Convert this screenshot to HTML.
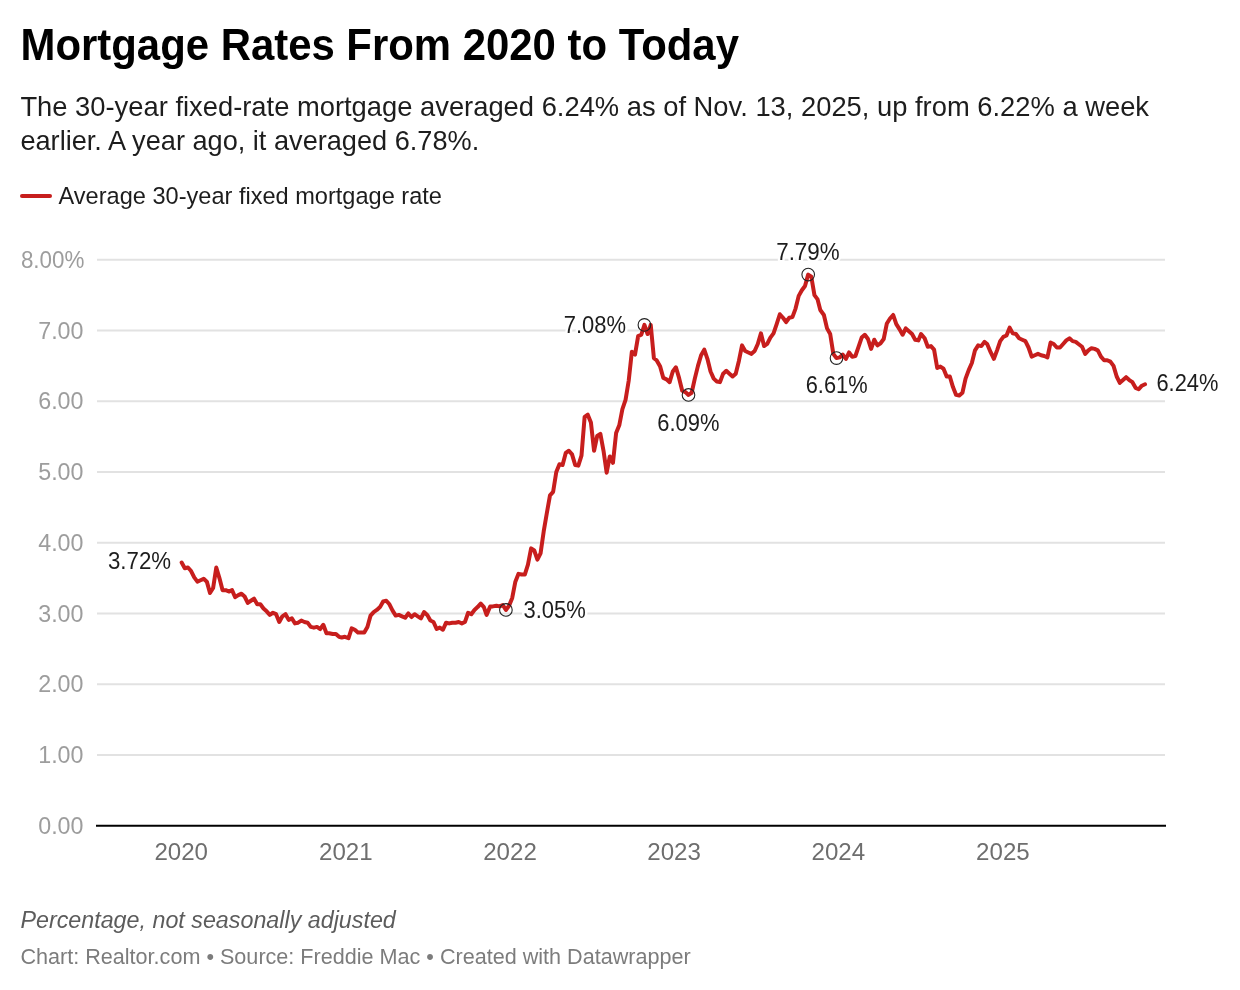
<!DOCTYPE html>
<html><head><meta charset="utf-8">
<title>Mortgage Rates From 2020 to Today</title>
<style>
html,body{margin:0;padding:0;background:#fff;}
body{width:1240px;height:990px;position:relative;overflow:hidden;}
svg{position:absolute;left:0;top:0;font-family:"Liberation Sans", Arial, sans-serif;will-change:transform;}
.g{stroke:#e2e2e2;stroke-width:2;}
.c{fill:none;stroke:#222;stroke-width:1.1;}
.halo{stroke:#fff;stroke-width:5px;stroke-linejoin:round;paint-order:stroke fill;}
</style></head><body>
<svg width="1240" height="990" viewBox="0 0 1240 990">
<line x1="97" x2="1165" y1="755.0" y2="755.0" class="g"/>
<line x1="97" x2="1165" y1="684.2" y2="684.2" class="g"/>
<line x1="97" x2="1165" y1="613.5" y2="613.5" class="g"/>
<line x1="97" x2="1165" y1="542.7" y2="542.7" class="g"/>
<line x1="97" x2="1165" y1="472.0" y2="472.0" class="g"/>
<line x1="97" x2="1165" y1="401.3" y2="401.3" class="g"/>
<line x1="97" x2="1165" y1="330.5" y2="330.5" class="g"/>
<line x1="97" x2="1165" y1="259.8" y2="259.8" class="g"/>

<line x1="96" x2="1166" y1="825.7" y2="825.7" stroke="#000" stroke-width="2"/>
<path d="M181.65,562.55 L184.80,568.21 L187.95,567.50 L191.09,571.04 L194.24,577.40 L197.39,581.65 L200.54,580.23 L203.69,578.82 L206.84,581.65 L209.98,592.97 L213.13,588.01 L216.28,567.50 L219.43,578.11 L222.58,590.14 L225.73,590.14 L228.87,591.55 L232.02,590.14 L235.17,597.21 L238.32,595.09 L241.47,593.67 L244.61,596.50 L247.76,602.87 L250.91,600.75 L254.06,598.62 L257.21,604.28 L260.36,604.28 L263.50,608.53 L266.65,611.36 L269.80,614.89 L272.95,612.77 L276.10,614.19 L279.25,621.97 L282.39,616.31 L285.54,614.19 L288.69,619.85 L291.84,618.43 L294.99,623.38 L298.13,622.68 L301.28,620.55 L304.43,621.97 L307.58,622.68 L310.73,626.92 L313.88,627.63 L317.02,626.92 L320.17,629.04 L323.32,624.80 L326.47,633.29 L329.17,633.29 L332.77,633.99 L335.91,633.99 L339.06,636.82 L341.76,637.53 L344.91,636.82 L348.51,638.24 L351.66,628.34 L354.80,629.75 L357.95,632.58 L361.10,632.58 L364.25,632.58 L367.40,626.92 L370.54,615.60 L373.69,612.07 L376.84,609.94 L379.99,607.11 L383.14,601.45 L386.29,600.75 L389.43,604.28 L392.58,610.65 L395.73,615.60 L398.88,614.89 L402.03,616.31 L405.18,617.72 L408.32,613.48 L411.47,617.02 L414.62,614.19 L417.77,616.31 L420.92,618.43 L424.06,612.07 L427.21,614.89 L430.36,620.55 L433.51,621.97 L436.66,629.04 L439.81,627.63 L442.95,629.75 L446.10,622.68 L449.25,623.38 L452.40,622.68 L455.55,622.68 L458.70,621.97 L461.84,623.38 L464.99,621.97 L468.14,612.77 L471.29,614.19 L474.44,609.94 L477.59,607.11 L480.73,603.58 L483.88,607.11 L486.58,614.89 L490.18,606.41 L492.88,606.41 L496.47,605.70 L499.62,606.41 L502.77,604.99 L505.92,609.94 L509.07,605.70 L512.22,597.92 L515.36,581.65 L518.51,573.87 L521.66,574.57 L524.81,574.57 L527.96,564.67 L531.11,548.40 L534.25,550.52 L537.40,559.72 L540.55,553.35 L543.70,531.42 L546.85,513.03 L549.99,495.34 L553.14,491.81 L556.29,472.00 L559.44,464.22 L562.59,464.93 L565.74,452.90 L568.88,450.78 L572.03,454.32 L575.18,464.93 L578.33,465.63 L581.48,455.73 L584.63,416.82 L587.77,414.70 L590.92,422.48 L594.07,450.78 L597.22,435.92 L600.37,433.80 L603.52,450.78 L606.66,472.71 L609.81,456.44 L612.96,462.80 L616.11,433.09 L619.26,425.31 L622.40,409.04 L625.55,399.85 L628.70,380.75 L631.85,351.74 L635.00,354.57 L638.15,336.18 L641.29,334.76 L644.44,324.86 L647.59,334.06 L650.74,324.86 L653.89,358.11 L656.59,360.23 L660.18,366.60 L663.33,377.92 L666.48,379.33 L669.63,382.16 L672.78,371.55 L675.92,367.30 L679.07,377.92 L682.22,390.65 L685.37,392.06 L688.52,394.89 L691.67,392.77 L694.81,378.62 L697.96,365.89 L701.11,355.28 L704.26,349.62 L707.41,358.82 L710.56,371.55 L713.70,378.62 L716.85,381.45 L720.00,382.16 L723.15,373.67 L726.30,370.84 L729.45,373.67 L732.59,376.50 L735.74,373.67 L738.89,360.94 L742.04,345.38 L745.19,351.03 L748.33,352.45 L751.48,353.86 L754.63,351.03 L757.78,343.96 L760.93,333.35 L764.08,346.08 L767.22,343.96 L770.37,337.59 L773.52,333.35 L776.67,324.15 L779.82,314.25 L782.97,317.79 L786.11,322.03 L789.26,317.79 L792.41,317.08 L795.56,308.59 L798.71,295.86 L801.86,290.20 L805.00,285.95 L808.15,274.64 L811.30,276.76 L814.45,295.15 L817.60,299.39 L820.29,310.01 L823.89,314.96 L827.04,328.40 L830.19,334.06 L833.34,353.86 L836.49,358.11 L839.63,357.40 L842.78,354.57 L845.93,358.82 L849.08,352.45 L852.23,356.69 L855.38,355.99 L858.52,346.79 L861.67,337.59 L864.82,334.76 L867.97,339.01 L871.12,348.91 L874.26,339.72 L877.41,345.38 L880.56,343.25 L883.71,339.01 L886.86,323.45 L890.01,318.49 L893.15,314.96 L896.30,324.15 L899.45,329.11 L902.60,334.76 L905.75,328.40 L908.90,331.23 L912.04,334.06 L915.19,339.72 L918.34,340.42 L921.04,334.06 L924.64,338.30 L927.78,346.79 L930.93,346.08 L934.08,349.62 L937.23,368.01 L940.38,366.60 L943.53,368.72 L946.67,376.50 L949.82,376.50 L952.97,387.11 L956.12,394.89 L959.27,395.60 L962.42,392.77 L965.56,378.62 L968.71,370.13 L971.86,363.06 L975.01,350.33 L978.16,345.38 L981.31,346.08 L984.45,341.84 L987.15,343.96 L990.75,352.45 L993.90,358.82 L997.05,350.33 L1000.19,341.13 L1003.34,336.89 L1006.49,335.47 L1009.64,327.69 L1012.79,333.35 L1015.94,334.06 L1019.08,338.30 L1022.23,339.72 L1025.38,341.13 L1028.53,347.50 L1031.68,356.69 L1034.83,355.28 L1037.97,353.86 L1041.12,355.28 L1044.27,355.99 L1047.42,357.40 L1050.57,342.55 L1053.71,343.96 L1056.86,347.50 L1060.01,347.50 L1063.16,343.96 L1066.31,340.42 L1069.46,338.30 L1072.60,341.13 L1075.75,341.84 L1078.45,343.96 L1082.05,346.79 L1085.20,353.86 L1088.35,350.33 L1091.49,348.21 L1094.64,348.91 L1097.79,350.33 L1100.94,356.69 L1104.09,360.23 L1107.24,360.23 L1110.38,361.65 L1113.53,365.89 L1116.68,376.50 L1119.83,382.87 L1122.98,380.04 L1126.12,377.21 L1129.27,380.04 L1132.42,382.16 L1135.57,387.82 L1138.72,389.23 L1141.87,385.70 L1145.01,384.28" fill="none" stroke="#c71e1d" stroke-width="4" stroke-linejoin="round" stroke-linecap="round"/>
<circle cx="505.9" cy="609.9" r="6.3" class="c"/><circle cx="644.4" cy="324.9" r="6.3" class="c"/><circle cx="688.5" cy="394.9" r="6.3" class="c"/><circle cx="808.2" cy="274.6" r="6.3" class="c"/><circle cx="836.5" cy="358.1" r="6.3" class="c"/>
<rect x="20" y="194" width="32" height="4" rx="2" fill="#c71e1d"/>
<text id="title" x="20.54" y="60.00" font-size="45" fill="#000" font-weight="bold" textLength="718.42" lengthAdjust="spacingAndGlyphs">Mortgage Rates From 2020 to Today</text>
<text id="sub1" x="20.40" y="115.80" font-size="28" fill="#1d1d1d" textLength="1128.62" lengthAdjust="spacingAndGlyphs">The 30-year fixed-rate mortgage averaged 6.24% as of Nov. 13, 2025, up from 6.22% a week</text>
<text id="sub2" x="20.43" y="149.70" font-size="28" fill="#1d1d1d" textLength="458.81" lengthAdjust="spacingAndGlyphs">earlier. A year ago, it averaged 6.78%.</text>
<text id="leg" x="58.50" y="203.90" font-size="24.3" fill="#1d1d1d" textLength="383.47" lengthAdjust="spacingAndGlyphs">Average 30-year fixed mortgage rate</text>
<text id="y8" x="84.41" y="267.80" font-size="23" fill="#9d9d9d" text-anchor="end" textLength="63.53" lengthAdjust="spacingAndGlyphs">8.00%</text>
<text id="y7" x="83.50" y="338.50" font-size="23" fill="#9d9d9d" text-anchor="end" textLength="45.30" lengthAdjust="spacingAndGlyphs">7.00</text>
<text id="y6" x="83.50" y="409.30" font-size="23" fill="#9d9d9d" text-anchor="end" textLength="45.30" lengthAdjust="spacingAndGlyphs">6.00</text>
<text id="y5" x="83.50" y="480.00" font-size="23" fill="#9d9d9d" text-anchor="end" textLength="45.30" lengthAdjust="spacingAndGlyphs">5.00</text>
<text id="y4" x="83.50" y="550.80" font-size="23" fill="#9d9d9d" text-anchor="end" textLength="45.30" lengthAdjust="spacingAndGlyphs">4.00</text>
<text id="y3" x="83.50" y="621.50" font-size="23" fill="#9d9d9d" text-anchor="end" textLength="45.30" lengthAdjust="spacingAndGlyphs">3.00</text>
<text id="y2" x="83.50" y="692.20" font-size="23" fill="#9d9d9d" text-anchor="end" textLength="45.30" lengthAdjust="spacingAndGlyphs">2.00</text>
<text id="y1" x="83.50" y="763.00" font-size="23" fill="#9d9d9d" text-anchor="end" textLength="45.30" lengthAdjust="spacingAndGlyphs">1.00</text>
<text id="y0" x="83.51" y="833.80" font-size="23" fill="#9d9d9d" text-anchor="end" textLength="45.28" lengthAdjust="spacingAndGlyphs">0.00</text>
<text id="x2020" x="181.20" y="859.90" font-size="23" fill="#6e6e6e" text-anchor="middle" textLength="53.60" lengthAdjust="spacingAndGlyphs">2020</text>
<text id="x2021" x="345.80" y="859.90" font-size="23" fill="#6e6e6e" text-anchor="middle" textLength="53.60" lengthAdjust="spacingAndGlyphs">2021</text>
<text id="x2022" x="510.00" y="859.90" font-size="23" fill="#6e6e6e" text-anchor="middle" textLength="53.60" lengthAdjust="spacingAndGlyphs">2022</text>
<text id="x2023" x="674.10" y="859.90" font-size="23" fill="#6e6e6e" text-anchor="middle" textLength="53.60" lengthAdjust="spacingAndGlyphs">2023</text>
<text id="x2024" x="838.30" y="859.90" font-size="23" fill="#6e6e6e" text-anchor="middle" textLength="53.60" lengthAdjust="spacingAndGlyphs">2024</text>
<text id="x2025" x="1002.90" y="859.90" font-size="23" fill="#6e6e6e" text-anchor="middle" textLength="53.60" lengthAdjust="spacingAndGlyphs">2025</text>
<text id="a372" class="halo" x="171.11" y="568.60" font-size="23" fill="#1d1d1d" text-anchor="end" textLength="63.13" lengthAdjust="spacingAndGlyphs">3.72%</text>
<text id="a305" class="halo" x="523.44" y="617.60" font-size="23" fill="#1d1d1d" textLength="62.28" lengthAdjust="spacingAndGlyphs">3.05%</text>
<text id="a708" class="halo" x="626.08" y="332.70" font-size="23" fill="#1d1d1d" text-anchor="end" textLength="62.27" lengthAdjust="spacingAndGlyphs">7.08%</text>
<text id="a609" class="halo" x="688.42" y="431.40" font-size="23" fill="#1d1d1d" text-anchor="middle" textLength="62.16" lengthAdjust="spacingAndGlyphs">6.09%</text>
<text id="a779" class="halo" x="807.91" y="259.50" font-size="23" fill="#1d1d1d" text-anchor="middle" textLength="63.42" lengthAdjust="spacingAndGlyphs">7.79%</text>
<text id="a661" class="halo" x="836.68" y="392.80" font-size="23" fill="#1d1d1d" text-anchor="middle" textLength="61.91" lengthAdjust="spacingAndGlyphs">6.61%</text>
<text id="a624" class="halo" x="1156.44" y="391.00" font-size="23" fill="#1d1d1d" textLength="61.98" lengthAdjust="spacingAndGlyphs">6.24%</text>
<text id="note" x="20.41" y="927.70" font-size="23.5" fill="#5c5c5c" font-style="italic" textLength="375.38" lengthAdjust="spacingAndGlyphs">Percentage, not seasonally adjusted</text>
<text id="foot" x="20.43" y="963.60" font-size="22.3" fill="#7c7c7c" textLength="670.31" lengthAdjust="spacingAndGlyphs">Chart: Realtor.com • Source: Freddie Mac • Created with Datawrapper</text>
</svg>
</body></html>
